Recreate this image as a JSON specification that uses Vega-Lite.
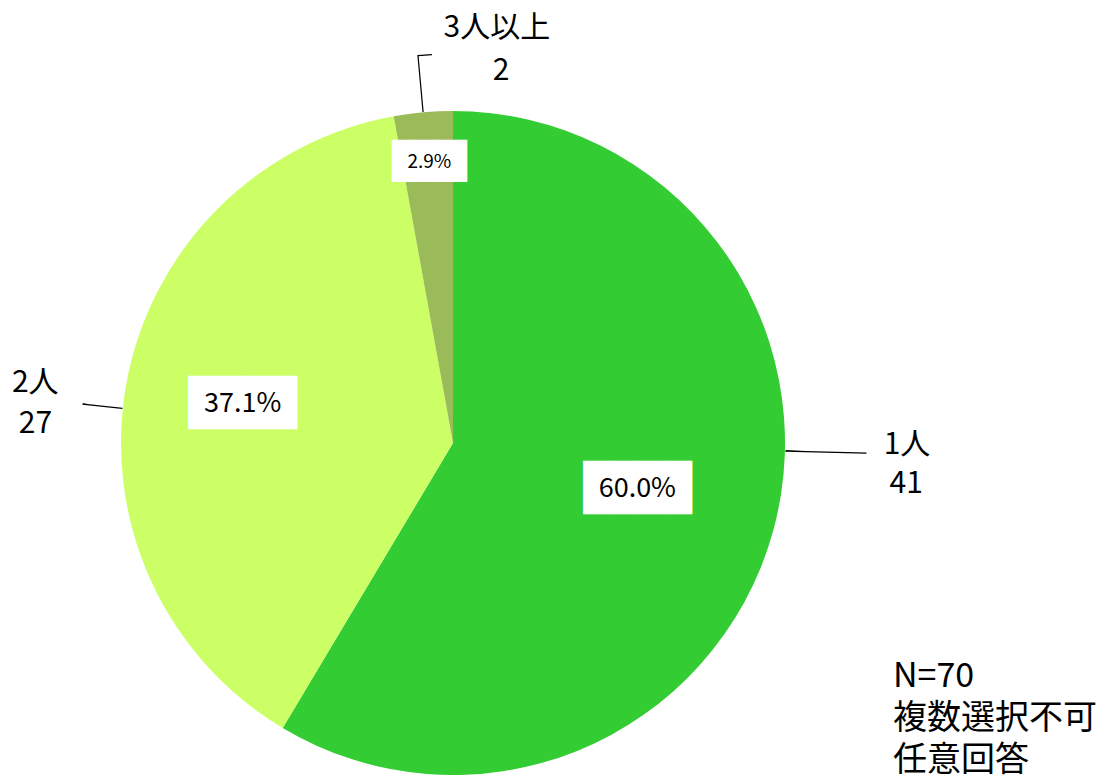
{
  "$schema": "https://vega.github.io/schema/vega-lite/v6.json",
  "width": 664,
  "height": 664,
  "autosize": {"type": "none"},
  "padding": {"left": 121, "top": 111, "right": 335, "bottom": 5},
  "background": "white",
  "config": {"view": {"stroke": null}},
  "title": {
    "text": ["N=70", "複数選択不可", "任意回答"],
    "orient": "bottom",
    "anchor": "end",
    "frame": "group",
    "angle": 0,
    "align": "left",
    "baseline": "bottom",
    "offset": 0,
    "dx": 108,
    "dy": -81,
    "font": "Noto Sans CJK JP",
    "fontSize": 34,
    "fontWeight": "normal",
    "lineHeight": 42,
    "color": "black"
  },
  "data": {
    "values": [
      {"category": "1人", "count": 41, "pct": "60.0%"},
      {"category": "2人", "count": 27, "pct": "37.1%"},
      {"category": "3人以上", "count": 2, "pct": "2.9%"}
    ]
  },
  "layer": [
    {
      "mark": {"type": "arc", "outerRadius": 332},
      "encoding": {
        "theta": {"field": "count", "type": "quantitative", "stack": true},
        "order": {"field": "category", "type": "ordinal", "sort": "ascending"},
        "color": {
          "field": "category",
          "type": "nominal",
          "scale": {"domain": ["1人", "2人", "3人以上"], "range": ["#33CC33", "#CCFF66", "#9BBB59"]},
          "legend": null
        }
      }
    },
    {
      "transform": [{"filter": "datum.category === '1人'"}],
      "mark": {"type": "arc", "theta": 1.595, "theta2": 1.5951, "radius": 333, "radius2": 413, "fillOpacity": 0, "stroke": "black", "strokeWidth": 1.2},
      "encoding": {}
    },
    {
      "transform": [{"filter": "datum.category === '2人'"}],
      "mark": {"type": "arc", "theta": 4.817, "theta2": 4.8171, "radius": 333, "radius2": 372, "fillOpacity": 0, "stroke": "black", "strokeWidth": 1.2},
      "encoding": {}
    },
    {
      "transform": [{"filter": "datum.category === '3人以上'"}],
      "mark": {"type": "arc", "theta": 6.193, "theta2": 6.1931, "radius": 333, "radius2": 389, "fillOpacity": 0, "stroke": "black", "strokeWidth": 1.2},
      "encoding": {}
    },
    {
      "transform": [{"filter": "datum.category === '3人以上'"}],
      "mark": {"type": "arc", "theta": 6.193, "theta2": 6.229, "radius": 389, "radius2": 389, "fillOpacity": 0, "stroke": "black", "strokeWidth": 1.2},
      "encoding": {}
    },
    {
      "mark": {"type": "text", "radius": 190, "thetaOffset": -0.024, "font": "DejaVu Sans Mono", "fontSize": 45, "color": "white"},
      "encoding": {
        "theta": {"field": "count", "type": "quantitative", "stack": true},
        "order": {"field": "category", "type": "ordinal", "sort": "ascending"},
        "text": {"condition": {"test": "datum.category === '1人'", "value": "████"}, "value": ""}
      }
    },
    {
      "mark": {"type": "text", "radius": 214, "thetaOffset": 0.004, "font": "DejaVu Sans Mono", "fontSize": 45, "color": "white"},
      "encoding": {
        "theta": {"field": "count", "type": "quantitative", "stack": true},
        "order": {"field": "category", "type": "ordinal", "sort": "ascending"},
        "text": {"condition": {"test": "datum.category === '2人'", "value": "████"}, "value": ""}
      }
    },
    {
      "mark": {"type": "text", "radius": 282, "thetaOffset": 0.006, "dx": 5.5, "font": "DejaVu Sans Mono", "fontSize": 35.6, "color": "white"},
      "encoding": {
        "theta": {"field": "count", "type": "quantitative", "stack": true},
        "order": {"field": "category", "type": "ordinal", "sort": "ascending"},
        "text": {"condition": {"test": "datum.category === '3人以上'", "value": "███▌"}, "value": ""}
      }
    },
    {
      "mark": {"type": "text", "radius": 190, "thetaOffset": -0.024, "font": "Noto Sans CJK JP", "fontSize": 27, "color": "black"},
      "encoding": {
        "theta": {"field": "count", "type": "quantitative", "stack": true},
        "order": {"field": "category", "type": "ordinal", "sort": "ascending"},
        "text": {"field": "pct", "type": "nominal", "condition": {"test": "datum.category !== '1人'", "value": ""}}
      }
    },
    {
      "mark": {"type": "text", "radius": 214, "thetaOffset": 0.004, "font": "Noto Sans CJK JP", "fontSize": 27, "color": "black"},
      "encoding": {
        "theta": {"field": "count", "type": "quantitative", "stack": true},
        "order": {"field": "category", "type": "ordinal", "sort": "ascending"},
        "text": {"field": "pct", "type": "nominal", "condition": {"test": "datum.category !== '2人'", "value": ""}}
      }
    },
    {
      "mark": {"type": "text", "radius": 282, "thetaOffset": 0.006, "font": "Noto Sans CJK JP", "fontSize": 19, "color": "black"},
      "encoding": {
        "theta": {"field": "count", "type": "quantitative", "stack": true},
        "order": {"field": "category", "type": "ordinal", "sort": "ascending"},
        "text": {"field": "pct", "type": "nominal", "condition": {"test": "datum.category !== '3人以上'", "value": ""}}
      }
    },
    {
      "mark": {"type": "text", "radius": 454, "thetaOffset": -0.265, "font": "Noto Sans CJK JP", "fontSize": 30, "color": "black"},
      "encoding": {
        "theta": {"field": "count", "type": "quantitative", "stack": true},
        "order": {"field": "category", "type": "ordinal", "sort": "ascending"},
        "text": {"field": "category", "type": "nominal", "condition": {"test": "datum.category !== '1人'", "value": ""}}
      }
    },
    {
      "mark": {"type": "text", "radius": 455, "thetaOffset": -0.179, "font": "Noto Sans CJK JP", "fontSize": 30, "color": "black"},
      "encoding": {
        "theta": {"field": "count", "type": "quantitative", "stack": true},
        "order": {"field": "category", "type": "ordinal", "sort": "ascending"},
        "text": {"field": "count", "type": "quantitative", "condition": {"test": "datum.category !== '1人'", "value": ""}}
      }
    },
    {
      "mark": {"type": "text", "radius": 422, "thetaOffset": -0.037, "font": "Noto Sans CJK JP", "fontSize": 30, "color": "black"},
      "encoding": {
        "theta": {"field": "count", "type": "quantitative", "stack": true},
        "order": {"field": "category", "type": "ordinal", "sort": "ascending"},
        "text": {"field": "category", "type": "nominal", "condition": {"test": "datum.category !== '2人'", "value": ""}}
      }
    },
    {
      "mark": {"type": "text", "radius": 418, "thetaOffset": -0.134, "font": "Noto Sans CJK JP", "fontSize": 30, "color": "black"},
      "encoding": {
        "theta": {"field": "count", "type": "quantitative", "stack": true},
        "order": {"field": "category", "type": "ordinal", "sort": "ascending"},
        "text": {"field": "count", "type": "quantitative", "condition": {"test": "datum.category !== '2人'", "value": ""}}
      }
    },
    {
      "mark": {"type": "text", "radius": 417, "thetaOffset": 0.195, "font": "Noto Sans CJK JP", "fontSize": 30, "color": "black"},
      "encoding": {
        "theta": {"field": "count", "type": "quantitative", "stack": true},
        "order": {"field": "category", "type": "ordinal", "sort": "ascending"},
        "text": {"field": "category", "type": "nominal", "condition": {"test": "datum.category !== '3人以上'", "value": ""}}
      }
    },
    {
      "mark": {"type": "text", "radius": 375, "thetaOffset": 0.218, "font": "Noto Sans CJK JP", "fontSize": 30, "color": "black"},
      "encoding": {
        "theta": {"field": "count", "type": "quantitative", "stack": true},
        "order": {"field": "category", "type": "ordinal", "sort": "ascending"},
        "text": {"field": "count", "type": "quantitative", "condition": {"test": "datum.category !== '3人以上'", "value": ""}}
      }
    }
  ]
}
